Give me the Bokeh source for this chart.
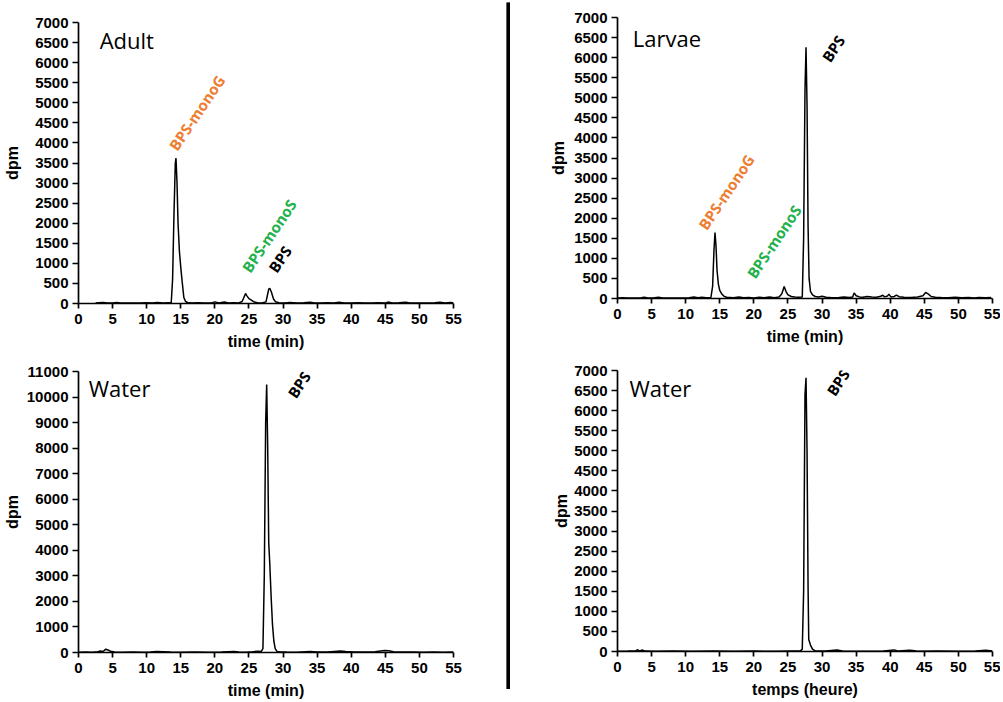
from bokeh.plotting import figure
from bokeh.layouts import row, column
from bokeh.models import Label, Range1d, FixedTicker
from bokeh.embed import file_html
from bokeh.resources import INLINE

# ---------------- data ----------------
x_ticks = list(range(0, 56, 5))
y_ticks_7000 = list(range(0, 7001, 500))
y_ticks_11000 = list(range(0, 11001, 1000))

adult_time = [2.5, 3.0, 3.6, 4.2, 5.0, 5.6, 6.2, 7.0, 8.0, 9.0,
              10.0, 10.8, 11.6, 12.4, 13.2, 13.6, 13.8, 14.0, 14.2, 14.3,
              14.45, 14.6, 14.8, 15.0, 15.2, 15.45, 15.7, 16.0, 16.6, 17.5,
              18.5, 19.5, 20.0, 20.6, 21.4, 22.0, 22.8, 23.5, 24.0, 24.3,
              24.5, 24.7, 25.0, 25.4, 25.8, 26.4, 27.0, 27.5, 27.7, 27.9,
              28.05, 28.3, 28.6, 28.9, 29.4, 30.2, 31.0, 32.0, 33.0, 34.0,
              34.6, 35.5, 36.5, 37.5, 38.2, 39.0, 40.0, 41.0, 42.0, 43.0,
              44.0, 45.0, 45.4, 46.0, 47.0, 48.0, 48.6, 49.5, 50.5, 51.5,
              52.3, 53.0, 53.8, 54.5, 55.0]
adult_dpm = [15, 20, 25, 10, 15, 25, 10, 10, 15, 10,
             20, 15, 25, 15, 20, 20, 600, 2200, 3500, 3620,
             3000, 2000, 1300, 900, 550, 150, 50, 25, 15, 20,
             10, 15, 40, 15, 35, 15, 20, 15, 50, 170,
             250, 190, 120, 80, 35, 15, 20, 40, 200, 360,
             380, 280, 110, 45, 20, 15, 25, 15, 20, 30,
             15, 10, 20, 15, 30, 15, 10, 20, 15, 10,
             20, 15, 35, 15, 20, 30, 15, 10, 15, 10,
             20, 30, 15, 25, 20]

larvae_time = [0.0, 0.8, 1.5, 2.5, 3.5, 3.9, 4.5, 5.2, 6.0, 6.6,
               7.5, 8.5, 9.5, 10.5, 11.2, 11.8, 12.4, 13.0, 13.7, 13.95,
               14.15, 14.3, 14.45, 14.6, 14.8, 15.0, 15.3, 15.6, 16.0, 17.0,
               17.8, 18.5, 19.3, 20.0, 20.8, 21.5, 22.3, 23.0, 23.7, 24.1,
               24.45, 24.7, 25.0, 25.5, 26.0, 26.6, 27.1, 27.3, 27.5, 27.65,
               27.8, 27.95, 28.1, 28.3, 28.6, 29.0, 29.5, 30.0, 30.6, 31.5,
               32.5, 33.2, 34.0, 34.5, 34.7, 35.0, 35.5, 36.0, 36.6, 37.3,
               38.0, 38.6, 38.9, 39.2, 39.6, 39.8, 40.1, 40.6, 40.9, 41.3,
               42.0, 43.0, 44.0, 44.8, 45.2, 45.6, 46.0, 46.6, 47.5, 48.5,
               49.5, 50.5, 51.5, 52.3, 53.0, 54.0, 54.8]
larvae_dpm = [10, 20, 10, 15, 20, 30, 15, 10, 30, 10,
              15, 10, 15, 20, 35, 20, 30, 20, 25, 300,
              1200, 1640, 1300, 700, 350, 200, 110, 60, 30, 20,
              35, 20, 25, 15, 30, 20, 35, 20, 40, 120,
              300, 180, 90, 50, 35, 30, 40, 1500, 5200, 6260,
              4800, 1800, 500, 180, 90, 50, 40, 55, 30, 20,
              25, 40, 25, 40, 140, 70, 40, 30, 50, 35,
              30, 55, 80, 40, 60, 110, 40, 50, 85, 45,
              30, 25, 40, 70, 150, 110, 50, 30, 25, 20,
              30, 20, 25, 15, 25, 20, 25]

water1_time = [0.0, 1.0, 2.0, 2.8, 3.2, 3.6, 4.0, 4.3, 4.7, 5.3,
               6.5, 8.0, 9.3, 10.5, 11.5, 12.5, 13.5, 15.0, 17.0, 19.0,
               21.0, 22.8, 23.5, 24.5, 25.5, 26.3, 26.8, 27.05, 27.25, 27.45,
               27.6, 27.75, 27.9, 28.05, 28.25, 28.45, 28.65, 28.85, 29.1, 29.6,
               30.5, 32.0, 34.0, 35.0, 36.5, 37.5, 38.4, 39.2, 40.5, 42.0,
               43.5, 44.3, 44.9, 45.5, 46.2, 47.5, 49.0, 50.5, 52.0, 53.5, 55.0]
water1_dpm = [10, 15, 10, 30, 60, 40, 130, 100, 50, 20,
              10, 15, 10, 20, 35, 30, 15, 10, 15, 10,
              15, 40, 20, 10, 30, 50, 40, 150, 3000, 9000,
              10490, 8000, 4300, 3500, 2200, 1100, 450, 150, 40, 20,
              15, 10, 35, 20, 15, 40, 55, 35, 20, 15,
              30, 60, 80, 70, 30, 15, 20, 10, 15, 10, 15]

water2_time = [0.0, 1.5, 2.7, 2.9, 3.2, 3.7, 4.0, 5.5, 8.0, 11.0,
               14.0, 17.0, 20.0, 23.0, 25.5, 26.8, 27.1, 27.3, 27.5, 27.65,
               27.8, 27.95, 28.05, 28.3, 28.6, 29.0, 30.5, 32.2, 33.0, 36.0,
               39.0, 40.6, 41.2, 42.8, 43.3, 44.0, 47.0, 50.0, 52.5, 54.0, 55.0]
water2_dpm = [5, 10, 15, 45, 15, 35, 10, 5, 10, 5,
              10, 5, 10, 5, 10, 10, 60, 1500, 6400, 6820,
              5000, 1600, 300, 160, 60, 15, 10, 35, 10, 5,
              10, 40, 10, 30, 25, 5, 10, 5, 10, 30, 10]

ORANGE = "#ED7D31"
GREEN = "#22B14C"
TICK_FONT = "Liberation Sans"


def make_panel(width, height, mb_left, mb_right, mb_top, mb_bottom,
               ymax, yticks, xlabel, ylabel_standoff, t, d):
    p = figure(width=width, height=height, output_backend="svg",
               toolbar_location=None,
               x_range=Range1d(0, 55), y_range=Range1d(0, ymax),
               min_border_left=mb_left, min_border_right=mb_right,
               min_border_top=mb_top, min_border_bottom=mb_bottom)
    p.outline_line_color = None
    p.grid.visible = False
    p.background_fill_color = "white"
    p.border_fill_color = "white"
    p.line(t, d, line_color="black", line_width=1.5)

    p.xaxis.ticker = FixedTicker(ticks=x_ticks)
    p.yaxis.ticker = FixedTicker(ticks=yticks)
    for ax in (p.xaxis[0], p.yaxis[0]):
        ax.axis_line_width = 1.7
        ax.axis_line_color = "black"
        ax.major_tick_line_width = 1.7
        ax.major_tick_line_color = "black"
        ax.major_tick_in = 0
        ax.minor_tick_line_color = None
        ax.major_label_text_font = TICK_FONT
        ax.major_label_text_font_style = "bold"
        ax.major_label_text_font_size = "15px"
        ax.major_label_text_color = "black"
        ax.axis_label_text_font = TICK_FONT
        ax.axis_label_text_font_style = "bold"
        ax.axis_label_text_font_size = "16px"
        ax.axis_label_text_color = "black"
    p.xaxis.major_tick_out = 5
    p.xaxis.major_label_standoff = 5
    p.xaxis.axis_label = xlabel
    p.xaxis.axis_label_standoff = 6
    p.yaxis.major_tick_out = 6
    p.yaxis.major_label_standoff = 4
    p.yaxis.axis_label = "dpm"
    p.yaxis.axis_label_standoff = ylabel_standoff
    return p


def title(p, x, y, text):
    p.add_layout(Label(x=x, y=y, text=text, text_font="Open Sans",
                       text_font_size="22px", text_color="black",
                       text_baseline="alphabetic", text_align="left"))


def tag(p, x, y, text, color):
    p.add_layout(Label(x=x, y=y, text=text, text_font="Open Sans",
                       text_font_style="bold", text_font_size="15px",
                       text_color=color, angle=56, angle_units="deg",
                       text_baseline="alphabetic", text_align="left"))


# Adult (top-left)
p1 = make_panel(506, 354, 78, 53, 22, 51, 7000, y_ticks_7000,
                "time (min)", 11, adult_time, adult_dpm)
title(p1, 3.1, 6570, "Adult")
tag(p1, 13.8, 3860, "BPS-monoG", ORANGE)
tag(p1, 24.5, 820, "BPS-monoS", GREEN)
tag(p1, 28.4, 820, "BPS", "black")

# Larvae (top-right)
p2 = make_panel(490, 354, 107, 8, 17, 56, 7000, y_ticks_7000,
                "time (min)", 4, larvae_time, larvae_dpm)
title(p2, 2.25, 6480, "Larvae")
tag(p2, 12.4, 1760, "BPS-monoG", ORANGE)
tag(p2, 19.5, 550, "BPS-monoS", GREEN)
tag(p2, 30.5, 5940, "BPS", "black")

# Water (bottom-left)
p3 = make_panel(506, 347, 78, 53, 17, 49, 11000, y_ticks_11000,
                "time (min)", 3, water1_time, water1_dpm)
title(p3, 1.5, 10340, "Water")
tag(p3, 31.2, 10040, "BPS", "black")

# Water (bottom-right)
p4 = make_panel(490, 347, 107, 8, 16, 50, 7000, y_ticks_7000,
                "temps (heure)", 1, water2_time, water2_dpm)
title(p4, 1.76, 6570, "Water")
tag(p4, 31.2, 6420, "BPS", "black")

# vertical divider
div = figure(width=4, height=689, output_backend="svg", toolbar_location=None,
             min_border=0, min_border_top=2,
             x_range=Range1d(0, 1), y_range=Range1d(0, 1))
div.axis.visible = False
div.grid.visible = False
div.outline_line_color = None
div.background_fill_color = "black"
div.border_fill_color = "white"
div.rect(x=[0.5], y=[0.5], width=1, height=1, fill_color="black", line_color=None)

layout = row(column(p1, p3), div, column(p2, p4))

open("out.html", "w").write(file_html(layout, INLINE))
